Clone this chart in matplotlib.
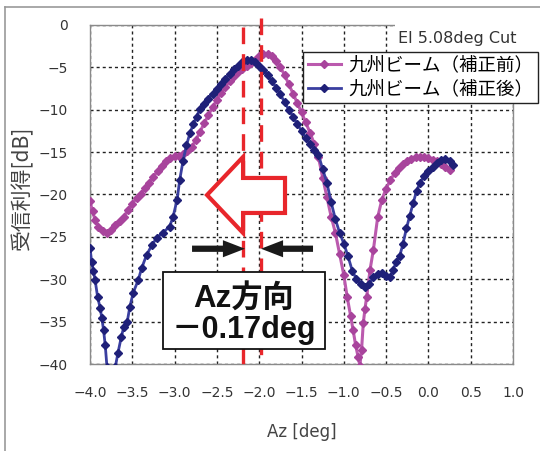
import matplotlib
matplotlib.use("Agg")
import matplotlib.pyplot as plt
from matplotlib.patches import Polygon, Rectangle
from matplotlib.lines import Line2D

# 九州ビーム(補正前) : az [deg], gain [dB]
before_az = [-4.00, -3.97, -3.94, -3.90, -3.85, -3.80, -3.75, -3.70, -3.65, -3.60,
             -3.55, -3.50, -3.45, -3.40, -3.35, -3.30, -3.25, -3.20, -3.15, -3.10,
             -3.05, -3.00, -2.95, -2.90, -2.85, -2.80, -2.75, -2.70, -2.65, -2.60,
             -2.55, -2.50, -2.45, -2.40, -2.35, -2.30, -2.25, -2.20, -2.15, -2.10,
             -2.05, -2.00, -1.95, -1.90, -1.85, -1.80, -1.75, -1.70, -1.65, -1.60,
             -1.55, -1.50, -1.45, -1.40, -1.35, -1.30, -1.25, -1.20, -1.15, -1.10,
             -1.05, -1.00, -0.96, -0.92, -0.89, -0.86, -0.83, -0.81, -0.79, -0.77,
             -0.75, -0.73, -0.69, -0.65, -0.60, -0.55, -0.50, -0.45, -0.40, -0.35,
             -0.30, -0.25, -0.20, -0.15, -0.10, -0.05, 0.00, 0.05, 0.10, 0.15,
             0.20, 0.26]
before_db = [-20.8, -22.0, -23.0, -23.8, -24.3, -24.5, -24.2, -23.6, -23.1, -22.6,
             -21.8, -21.1, -20.4, -19.9, -19.2, -18.6, -17.9, -17.2, -16.6, -16.1,
             -15.7, -15.5, -15.4, -15.2, -14.9, -14.4, -13.6, -12.6, -11.6, -10.6,
             -9.7, -8.8, -8.0, -7.3, -6.6, -6.0, -5.6, -5.2, -4.8, -4.5,
             -4.1, -3.7, -3.4, -3.4, -3.7, -4.2, -5.0, -5.9, -7.0, -8.1,
             -9.2, -10.3, -11.5, -12.7, -14.0, -15.6, -18.0, -20.3, -22.6, -24.5,
             -27.0, -29.5, -32.1, -34.3, -36.0, -37.8, -39.2, -40.2, -38.3, -35.2,
             -33.5, -32.1, -28.9, -26.5, -22.7, -20.6, -19.3, -18.3, -17.5, -16.9,
             -16.4, -16.0, -15.8, -15.6, -15.6, -15.6, -15.7, -15.9, -16.1, -16.4,
             -16.7, -17.1]

# 九州ビーム(補正後)
after_az = [-4.00, -3.98, -3.96, -3.94, -3.91, -3.88, -3.86, -3.84, -3.82, -3.80,
            -3.76, -3.70, -3.67, -3.63, -3.60, -3.56, -3.53, -3.49, -3.43, -3.39,
            -3.33, -3.27, -3.21, -3.14, -3.06, -3.02, -2.97, -2.94, -2.90, -2.86,
            -2.82, -2.78, -2.74, -2.70, -2.65, -2.60, -2.55, -2.50, -2.45, -2.40,
            -2.35, -2.30, -2.25, -2.20, -2.15, -2.10, -2.05, -2.00, -1.95, -1.90,
            -1.85, -1.80, -1.75, -1.70, -1.65, -1.60, -1.55, -1.50, -1.45, -1.40,
            -1.35, -1.30, -1.25, -1.20, -1.15, -1.10, -1.05, -1.00, -0.95, -0.90,
            -0.85, -0.80, -0.75, -0.70, -0.65, -0.60, -0.55, -0.50, -0.45, -0.42,
            -0.38, -0.34, -0.30, -0.26, -0.22, -0.18, -0.14, -0.10, -0.05, 0.00,
            0.05, 0.10, 0.15, 0.20, 0.25, 0.29]
after_db = [-26.3, -28.0, -29.0, -30.1, -32.1, -33.4, -34.6, -36.0, -37.8, -40.3,
            -42.0, -40.3, -38.7, -36.8, -35.6, -35.0, -33.3, -31.6, -30.1, -28.7,
            -27.1, -26.0, -25.1, -24.5, -23.8, -22.7, -20.6, -18.3, -16.0, -14.2,
            -12.8, -11.7, -10.8, -9.9, -9.3, -8.7, -8.1, -7.6, -7.0, -6.4,
            -5.8, -5.2, -4.8, -4.4, -4.1, -4.1, -4.4, -4.8, -5.3, -5.9,
            -6.6, -7.4, -8.2, -9.1, -10.0, -10.8, -11.7, -12.5, -13.3, -14.0,
            -14.7, -15.3, -17.0, -18.6, -20.9, -22.9, -24.5, -25.8, -27.3, -29.0,
            -30.0, -30.6, -30.9, -30.6, -29.7, -29.4, -29.3, -29.6, -29.7, -28.9,
            -28.0, -27.3, -25.8, -24.0, -22.5, -21.0, -19.6, -18.6, -17.8, -17.2,
            -16.7, -16.3, -15.9, -15.8, -16.0, -16.5]

labels = ["九州ビーム（補正前）", "九州ビーム（補正後）"]
x_ticks = [-4.0, -3.5, -3.0, -2.5, -2.0, -1.5, -1.0, -0.5, 0.0, 0.5, 1.0]
y_ticks = [0, -5, -10, -15, -20, -25, -30, -35, -40]

peak_az = [-2.19, -1.98]   # 補正後 / 補正前 peak markers
shift_text = "－0.17deg"

cjk = ["Noto Sans CJK JP", "DejaVu Sans"]
red = "#e8262b"

fig = plt.figure(figsize=(5.4, 4.51), dpi=100)
ax = fig.add_axes([0.1667, 0.1929, 0.7833, 0.7517])

ax.plot(before_az, before_db, color="#bb5aae", lw=2.2, marker="D", ms=4.2,
        mfc="#a8449c", mec="#a8449c", zorder=3, label=labels[0])
ax.plot(after_az, after_db, color="#3a3fa0", lw=2.0, marker="D", ms=4.2,
        mfc="#1f2078", mec="#1f2078", zorder=3.5, label=labels[1])

ax.set_xlim(-4.0, 1.0)
ax.set_ylim(-40, 0)
ax.set_xticks(x_ticks)
ax.set_yticks(y_ticks)
ax.grid(True, color="#222222", linestyle=(0, (2.2, 2.2)), linewidth=1.0)
ax.tick_params(length=0, pad=16, labelsize=10, labelcolor="#333333")
for s in ax.spines.values():
    s.set_color("#8a8a8a")
    s.set_linewidth(1.0)

ax.set_xlabel("Az [deg]", fontsize=12, color="#444444")
ax.xaxis.set_label_coords(0.5, -0.175)
ax.set_ylabel("受信利得[dB]", fontsize=15, color="#444444", family=cjk)
ax.yaxis.set_label_coords(-0.135, 0.52)

# white patch hiding the top-right corner of the frame
ax.add_patch(Rectangle((0.721, 0.92), 0.36, 0.12, transform=ax.transAxes,
                       facecolor="white", edgecolor="none", clip_on=False, zorder=4.5))
ax.text(0.728, 0.959, "El 5.08deg Cut", transform=ax.transAxes, fontsize=11.5,
        color="#333333", ha="left", va="center", zorder=6)

leg = ax.legend(loc="upper left", bbox_to_anchor=(0.504, 0.920), borderaxespad=0,
                prop={"family": cjk, "size": 13.3}, numpoints=1, handlelength=1.8,
                handletextpad=0.38, labelspacing=0.3, borderpad=0.25,
                fancybox=False, framealpha=1, edgecolor="#222222")
leg.get_frame().set_linewidth(1.0)
leg.set_zorder(7)

# red dashed peak lines
ax.plot([peak_az[0], peak_az[0]], [-0.24, -40.1], color=red, lw=2.4,
        linestyle=(0, (5, 3)), clip_on=False, zorder=5)
ax.plot([peak_az[1], peak_az[1]], [0.83, -39.8], color=red, lw=2.4,
        linestyle=(0, (5, 3)), clip_on=False, zorder=5)

# hollow red arrow pointing left
arrow = Polygon([(-2.617, -20.06), (-2.191, -15.57), (-2.191, -18.05), (-1.695, -18.05),
                 (-1.695, -22.18), (-2.191, -22.18), (-2.191, -24.54)],
                closed=True, facecolor="white", edgecolor=red, lw=3.0,
                joinstyle="miter", zorder=6)
ax.add_patch(arrow)

# black arrows pointing at the gap
style = "simple,head_length=0.53,head_width=0.41,tail_width=0.15"
ax.annotate("", xy=(-2.168, -26.4), xytext=(-2.794, -26.4),
            arrowprops=dict(arrowstyle=style, mutation_scale=30, color="#1a1a1a",
                            shrinkA=0, shrinkB=0, lw=0), zorder=6)
ax.annotate("", xy=(-1.979, -26.4), xytext=(-1.364, -26.4),
            arrowprops=dict(arrowstyle=style, mutation_scale=30, color="#1a1a1a",
                            shrinkA=0, shrinkB=0, lw=0), zorder=6)

# text box
ax.add_patch(Rectangle((-3.137, -38.23), 1.915, 9.09, facecolor="white",
                       edgecolor="#111111", lw=1.3, zorder=7))
bold = ["Liberation Sans", "Noto Sans CJK JP"]
ax.text(-2.18, -32.45, "Az方向", ha="center", va="center", fontsize=22.5,
        fontweight="bold", family=bold, color="#111111", zorder=8)
ax.text(-2.18, -35.99, shift_text, ha="center", va="center", fontsize=22,
        fontweight="bold", family=bold, color="#111111", zorder=8)

# outer frame of the original figure
fig.add_artist(Line2D([0.0093, 0.0093], [0.0, 0.9845], color="#999999", lw=1.2))
fig.add_artist(Line2D([0.0093, 1.0], [0.9845, 0.9845], color="#999999", lw=1.2))

fig.savefig("out.png", dpi=100)
